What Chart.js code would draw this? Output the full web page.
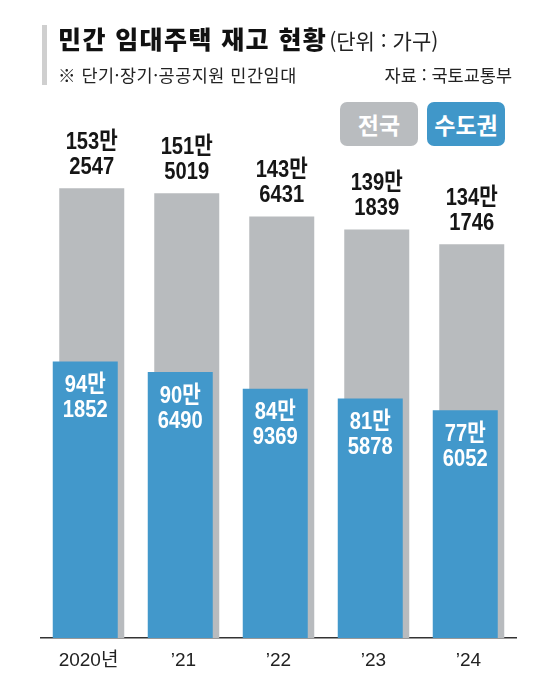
<!DOCTYPE html>
<html lang="ko">
<head>
<meta charset="utf-8">
<script src="https://cdn.jsdelivr.net/npm/chart.js@4.4.1/dist/chart.umd.min.js"></script>
<style>
  html, body { margin:0; padding:0; background:#fff; overflow:hidden; }
  #wrap { position:relative; width:554px; height:675px; overflow:hidden; font-family:'Noto Sans CJK KR','Liberation Sans',sans-serif; }
  #bar { position:absolute; left:42px; top:25px; width:5px; height:60px; background:#cfcfcf; }
  #title { position:absolute; left:58px; top:22px; white-space:nowrap; color:#111; line-height:32px; }
  #title .main { font-size:25px; font-weight:900; letter-spacing:1.4px; }
  #title .unit { font-size:21px; font-weight:400; letter-spacing:0px; margin-left:2px; color:#222; }
  #sub { position:absolute; left:58px; top:63px; font-size:17.5px; letter-spacing:0.5px; color:#222; white-space:nowrap; line-height:24px; }
  #src { position:absolute; right:42px; top:63px; font-size:17.5px; color:#222; white-space:nowrap; line-height:24px; }
  .leg { position:absolute; top:102px; width:78px; height:44px; border-radius:7px; color:#fff; font-size:23px; font-weight:700; text-align:center; line-height:44px; }
  #legA { left:340px; background:#b9bcbf; }
  #legB { left:427px; background:#4097c9; }
  canvas { position:absolute; left:0; top:0; }
</style>
</head>
<body>
<div id="wrap">
  <canvas id="c" width="554" height="688"></canvas>
  <div id="bar"></div>
  <div id="title"><span class="main">민간 임대주택 재고 현황</span><span class="unit">(단위 : 가구)</span></div>
  <div id="sub">※ 단기·장기·공공지원 민간임대</div>
  <div id="src">자료 : 국토교통부</div>
  <div class="leg" id="legA">전국</div>
  <div class="leg" id="legB">수도권</div>
</div>
<script>
const categories = ['2020년', '’21', '’22', '’23', '’24'];
const nationwide = [1532547, 1515019, 1436431, 1391839, 1341746];
const capitalArea = [941852, 906490, 849369, 815878, 776052];

const GRAY = '#b8bbbe';
const BLUE = '#4298cb';

function splitLabel(v) {
  const man = Math.floor(v / 10000);
  const rest = String(v % 10000).padStart(4, '0');
  return [man + '만', rest];
}

const labelPlugin = {
  id: 'barLabels',
  afterDatasetsDraw(chart) {
    const ctx = chart.ctx;
    chart.data.datasets.forEach((ds, di) => {
      const meta = chart.getDatasetMeta(di);
      meta.data.forEach((el, i) => {
        const [l1, l2] = splitLabel(ds.data[i]);
        const x = el.x, top = el.y;
        let y1, y2, color;
        if (ds.labelMode === 'above') { y1 = top - 46; y2 = top - 21; color = '#161616'; }
        else { y1 = top + 24; y2 = top + 49; color = '#ffffff'; }
        ctx.save();
        ctx.fillStyle = color;
        ctx.font = "bold 24px 'Liberation Sans', 'Noto Sans CJK KR', sans-serif";
        ctx.textAlign = 'center';
        ctx.textBaseline = 'middle';
        [[l1, y1], [l2, y2]].forEach(([t, y]) => {
          ctx.save();
          ctx.translate(x, y);
          ctx.scale(0.84, 1);
          ctx.fillText(t, 0, 0);
          ctx.restore();
        });
        ctx.restore();
      });
    });
  }
};

new Chart(document.getElementById('c'), {
  type: 'bar',
  data: {
    labels: categories,
    datasets: [
      { label: '수도권', data: capitalArea, backgroundColor: BLUE, labelMode: 'inside',
        categoryPercentage: 13 / 95, barPercentage: 10, borderWidth: 0 },
      { label: '전국', data: nationwide, backgroundColor: GRAY, labelMode: 'above',
        categoryPercentage: 13 / 95, barPercentage: 10, borderWidth: 0 }
    ]
  },
  options: {
    responsive: false,
    animation: false,
    devicePixelRatio: 1,
    layout: { padding: { left: 41, right: 38, top: 100, bottom: 5.2 } },
    plugins: { legend: { display: false }, tooltip: { enabled: false } },
    scales: {
      x: {
        grid: { display: false, drawTicks: false },
        border: { display: true, color: '#333', width: 1.5 },
        ticks: { color: '#222', padding: 11,
          font: { size: 19, lineHeight: 1.2, family: "'Liberation Sans', 'Noto Sans CJK KR', sans-serif" } }
      },
      y: { display: false, min: 0, max: 1833000 }
    }
  },
  plugins: [labelPlugin]
});
</script>
</body>
</html>
